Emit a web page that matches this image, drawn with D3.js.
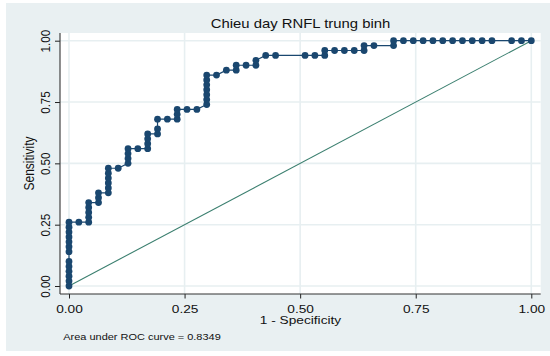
<!DOCTYPE html>
<html>
<head>
<meta charset="utf-8">
<script src="https://cdn.jsdelivr.net/npm/d3@7/dist/d3.min.js"></script>
<style>
  html, body { margin: 0; padding: 0; background: #ffffff; }
  svg { display: block; }
  text { font-family: "Liberation Sans", Arial, Helvetica, sans-serif; fill: #111; }
</style>
</head>
<body>
<div id="chart"></div>
<script>
// ---- data ----
const title = "Chieu day RNFL trung binh";
const xLabel = "1 - Specificity";
const yLabel = "Sensitivity";
const note = "Area under ROC curve = 0.8349";
const tickValues = [0, 0.25, 0.5, 0.75, 1];
const tickLabels = ["0.00", "0.25", "0.50", "0.75", "1.00"];

// ROC points: 1 - specificity (x) and sensitivity (y)
const fpr = [
  0, 0, 0, 0, 0, 0, 0, 0, 0, 0, 0, 0, 0,
  0.0213, 0.0426, 0.0426, 0.0426, 0.0426, 0.0426,
  0.0638, 0.0638, 0.0638,
  0.0851, 0.0851, 0.0851, 0.0851, 0.0851, 0.0851,
  0.1064, 0.1277, 0.1277, 0.1277, 0.1277,
  0.1489, 0.1702, 0.1702, 0.1702, 0.1702,
  0.1915, 0.1915, 0.1915,
  0.2128, 0.2340, 0.2340, 0.2340,
  0.2553, 0.2766,
  0.2979, 0.2979, 0.2979, 0.2979, 0.2979, 0.2979, 0.2979,
  0.3191, 0.3404, 0.3617, 0.3617, 0.3830, 0.4043, 0.4043,
  0.4255, 0.4468, 0.5106, 0.5319, 0.5532, 0.5532,
  0.5745, 0.5957, 0.6170, 0.6383, 0.6383, 0.6596,
  0.7021, 0.7021, 0.7234, 0.7447, 0.7660, 0.7872, 0.8085, 0.8298,
  0.8511, 0.8723, 0.8936, 0.9149, 0.9574, 0.9787, 1.0
];
const sens = [
  0, 0.02, 0.04, 0.06, 0.08, 0.10, 0.14, 0.16, 0.18, 0.20, 0.22, 0.24, 0.26,
  0.26, 0.26, 0.28, 0.30, 0.32, 0.34,
  0.34, 0.36, 0.38,
  0.38, 0.40, 0.42, 0.44, 0.46, 0.48,
  0.48, 0.50, 0.52, 0.54, 0.56,
  0.56, 0.56, 0.58, 0.60, 0.62,
  0.62, 0.64, 0.68,
  0.68, 0.68, 0.70, 0.72,
  0.72, 0.72,
  0.74, 0.76, 0.78, 0.80, 0.82, 0.84, 0.86,
  0.86, 0.88, 0.88, 0.90, 0.90, 0.90, 0.92,
  0.94, 0.94, 0.94, 0.94, 0.94, 0.96,
  0.96, 0.96, 0.96, 0.96, 0.98, 0.98,
  0.98, 1.0, 1.0, 1.0, 1.0, 1.0, 1.0, 1.0,
  1.0, 1.0, 1.0, 1.0, 1.0, 1.0, 1.0
];
const refLine = [0, 1];

// ---- layout ----
const W = 550, H = 356;
const stretch = 1.18; // horizontal text stretch of the reference rendering
const plot = { left: 60, right: 540.7, top: 33, bottom: 294 };
const navy = "#1a476f";
const refColor = "#3b7f6f";
const gridColor = "#e7eff1";
const bgColor = "#e9f0f2";

const svg = d3.select("#chart").append("svg").attr("width", W).attr("height", H);

// backgrounds
svg.append("rect").attr("x", 6).attr("y", 3).attr("width", W - 6).attr("height", 348).attr("fill", bgColor);
svg.append("rect").attr("x", plot.left).attr("y", plot.top)
  .attr("width", plot.right - plot.left).attr("height", plot.bottom - plot.top).attr("fill", "#ffffff");

const x = d3.scaleLinear().domain([0, 1]).range([69, 531.3]);
const y = d3.scaleLinear().domain([0, 1]).range([286, 40.7]);

// gridlines
const grid = svg.append("g");
grid.selectAll(".gx").data(tickValues).join("line")
  .attr("x1", d => x(d)).attr("x2", d => x(d))
  .attr("y1", plot.top).attr("y2", plot.bottom)
  .attr("stroke", gridColor).attr("stroke-width", 1.6);
grid.selectAll(".gy").data(tickValues).join("line")
  .attr("y1", d => y(d)).attr("y2", d => y(d))
  .attr("x1", plot.left).attr("x2", plot.right)
  .attr("stroke", gridColor).attr("stroke-width", 1.6);

function addText(parent, px, py, str, size, opts = {}) {
  const t = parent.append("text")
    .attr("transform", `translate(${px},${py}) scale(${stretch},1)` + (opts.rotate ? ` rotate(${opts.rotate})` : ""))
    .attr("text-anchor", opts.anchor || "middle")
    .attr("font-size", size)
    .text(str);
  return t;
}

// axes
const xAxis = d3.axisBottom(x).tickValues(tickValues)
  .tickFormat((d, i) => tickLabels[i]).tickSize(4.5).tickSizeOuter(0);
const gx = svg.append("g").attr("transform", `translate(0,${plot.bottom})`).call(xAxis);
gx.select(".domain").remove();
gx.selectAll(".tick line").attr("stroke", "#222").attr("stroke-width", 1);
gx.selectAll(".tick text")
  .attr("y", null).attr("dy", null)
  .attr("transform", `translate(0,18.7) scale(${stretch},1)`)
  .attr("font-size", 11.6).attr("fill", "#111")
  .attr("font-family", "Liberation Sans, Arial, sans-serif");

const yAxis = d3.axisLeft(y).tickValues(tickValues)
  .tickFormat((d, i) => tickLabels[i]).tickSize(5).tickSizeOuter(0);
const gy = svg.append("g").attr("transform", `translate(${plot.left},0)`).call(yAxis);
gy.select(".domain").remove();
gy.selectAll(".tick line").attr("stroke", "#222").attr("stroke-width", 1);
gy.selectAll(".tick text")
  .attr("x", null).attr("dy", null)
  .attr("text-anchor", "middle")
  .attr("transform", `translate(-10.5,0) scale(${stretch},1) rotate(-90)`)
  .attr("font-size", 11.6).attr("fill", "#111")
  .attr("font-family", "Liberation Sans, Arial, sans-serif");

// axis lines
svg.append("line").attr("x1", plot.left).attr("x2", plot.left)
  .attr("y1", plot.top).attr("y2", plot.bottom).attr("stroke", "#333").attr("stroke-width", 1.1);
svg.append("line").attr("x1", plot.left).attr("x2", plot.right)
  .attr("y1", plot.bottom).attr("y2", plot.bottom).attr("stroke", "#333").attr("stroke-width", 1.1);

// reference line
svg.append("line")
  .attr("x1", x(refLine[0])).attr("y1", y(refLine[0]))
  .attr("x2", x(refLine[1])).attr("y2", y(refLine[1]))
  .attr("stroke", refColor).attr("stroke-width", 1.1);

// ROC curve
const pts = fpr.map((f, i) => [f, sens[i]]);
svg.append("path").datum(pts)
  .attr("d", d3.line().x(d => x(d[0])).y(d => y(d[1])))
  .attr("fill", "none").attr("stroke", navy).attr("stroke-width", 1.2);
svg.append("g").selectAll("circle").data(pts).join("circle")
  .attr("cx", d => x(d[0])).attr("cy", d => y(d[1])).attr("r", 3.4)
  .attr("fill", navy);

// texts
addText(svg, 300.5, 28.3, title, 12.6);
addText(svg, 300.5, 324.3, xLabel, 11.6);
addText(svg, 34, 163.5, yLabel, 12, { rotate: -90 });
addText(svg, 63.3, 340.3, note, 9.3, { anchor: "start" });
</script>
</body>
</html>
